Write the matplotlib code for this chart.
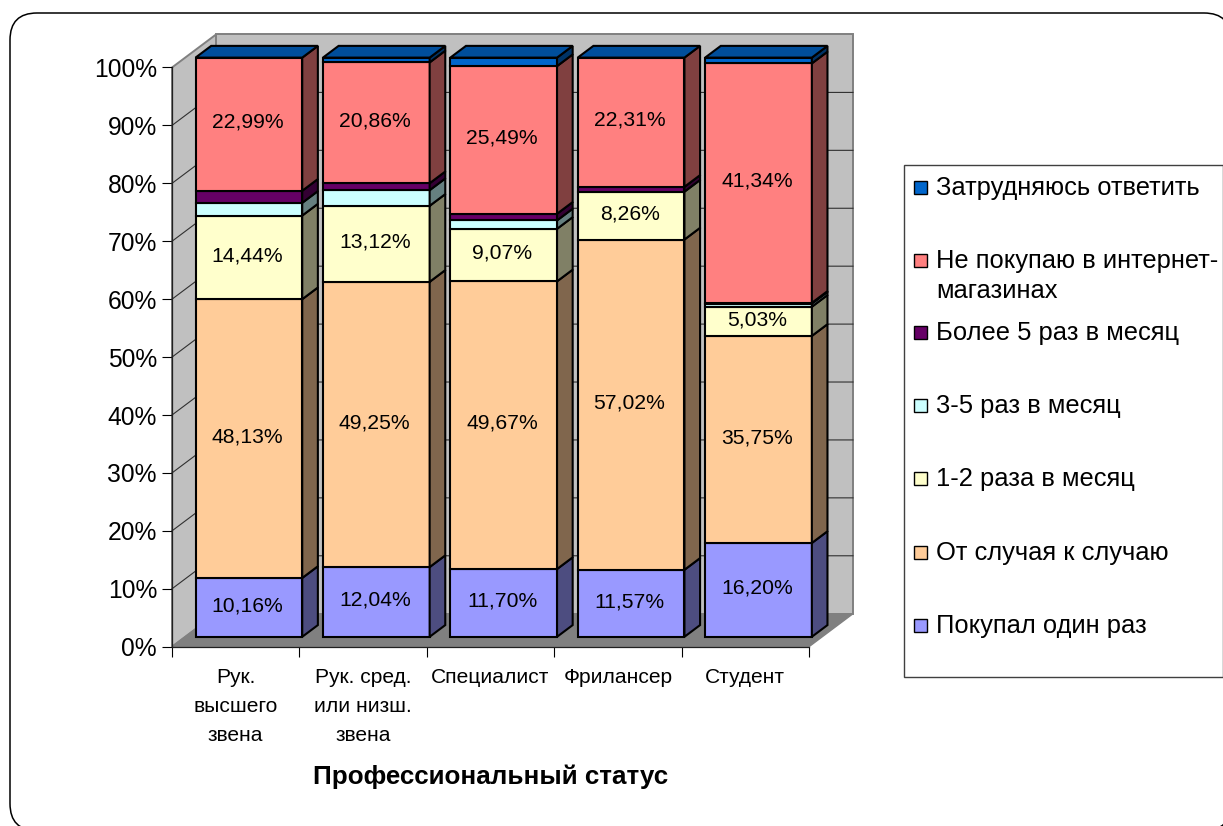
from matplotlib import pyplot as plt
from matplotlib.patches import FancyBboxPatch, Polygon, Rectangle
import numpy as np

plt.rcParams['font.family'] = ['Liberation Sans', 'DejaVu Sans']

categories = ['Рук.\nвысшего\nзвена', 'Рук. сред.\nили низш.\nзвена', 'Специалист', 'Фрилансер', 'Студент']
once = [10.16, 12.04, 11.70, 11.57, 16.20]
sometimes = [48.13, 49.25, 49.67, 57.02, 35.75]
one_two = [14.44, 13.12, 9.07, 8.26, 5.03]
three_five = [2.20, 2.70, 1.45, 0.0, 0.55]
more_five = [2.08, 1.20, 1.15, 0.84, 0.13]
no_buy = [22.99, 20.86, 25.49, 22.31, 41.34]
no_answer = [0.0, 0.83, 1.47, 0.0, 1.0]

series = [once, sometimes, one_two, three_five, more_five, no_buy, no_answer]
colors = ['#9999FF', '#FFCC99', '#FFFFCC', '#CCFFFF', '#660066', '#FF8080', '#0066CC']
legend_labels = ['Покупал один раз', 'От случая к случаю', '1-2 раза в месяц', '3-5 раз в месяц',
                 'Более 5 раз в месяц', 'Не покупаю в интернет-\nмагазинах', 'Затрудняюсь ответить']
shown_labels = [True, True, True, False, False, True, False]

W, H = 1223, 826
fig = plt.figure(figsize=(W/100, H/100), dpi=100)

# pixel overlay for rounded frame and legend
bg = fig.add_axes([0, 0, 1, 1])
bg.set_xlim(0, W)
bg.set_ylim(H, 0)
bg.axis('off')
bg.add_patch(FancyBboxPatch((10, 13), 1221, 817.6, boxstyle='round,pad=0,rounding_size=27',
                            fc='white', ec='black', lw=1.1))

bg.add_patch(Rectangle((904, 164.7), 318.5, 512, fc='white', ec='#404040', lw=1))
legend_y = [625, 552, 478, 405, 332, 260, 187]
for c, lab, yy in zip(colors, legend_labels, legend_y):
    bg.add_patch(Rectangle((914, yy-6.5), 13, 13, fc=c, ec='black', lw=1))
    bg.text(936, yy-11, lab, fontsize=18.4, va='top', ha='left', linespacing=1.3, color='black')

x0, x1, y0, y1 = 172, 809, 646.7, 67.5
ax = fig.add_axes([x0/W, (H-y0)/H, (x1-x0)/W, (y0-y1)/H])
ax.patch.set_visible(False)
ax.set_xlim(0, 5)
ax.set_ylim(0, 100)

DX = 44/127.4   # depth vector in data units
DY = 33/5.792
d_front, d_back = 0.30, 0.655
bar_w = 0.8375

# walls and floor
ax.add_patch(Polygon([(0, 0), (0, 100), (DX, 100+DY), (DX, DY)], fc='#C0C0C0', ec='#808080', lw=1.4, clip_on=False, zorder=1))
ax.add_patch(Polygon([(DX, DY), (DX, 100+DY), (5+DX, 100+DY), (5+DX, DY)], fc='#C0C0C0', ec='#808080', lw=1.4, clip_on=False, zorder=1))
ax.add_patch(Polygon([(0, 0), (5, 0), (5+DX, DY), (DX, DY)], fc='#808080', ec='#808080', lw=1, clip_on=False, zorder=1))
for v in range(10, 100, 10):
    ax.plot([0, DX, 5+DX], [v, v+DY, v+DY], color='#303030', lw=0.8, clip_on=False, zorder=2)

xs = np.arange(5) + 0.5 - bar_w/2 + d_front*DX
bottoms = np.zeros(5)
ddx = (d_back-d_front)*DX
ddy = (d_back-d_front)*DY
for vals, c, show in zip(series, colors, shown_labels):
    vals = np.array(vals)
    rgb = np.array(plt.matplotlib.colors.to_rgb(c))
    for i in range(5):
        if vals[i] == 0:
            continue
        b = bottoms[i] + d_front*DY
        xr = xs[i] + bar_w
        ax.bar(xs[i], vals[i], bottom=b, width=bar_w, align='edge', color=c, edgecolor='black', lw=1.5, zorder=4, clip_on=False)
        ax.add_patch(Polygon([(xr, b), (xr+ddx, b+ddy), (xr+ddx, b+vals[i]+ddy), (xr, b+vals[i])],
                             fc=rgb*0.5, ec='black', lw=1.5, clip_on=False, zorder=4))
        if show:
            ax.text(xs[i]+bar_w/2-0.012, b+vals[i]/2+0.3, ('%.2f%%' % vals[i]).replace('.', ','),
                    ha='center', va='center', fontsize=15.2, zorder=6)
    bottoms += vals

# top caps
top_rgb = np.array(plt.matplotlib.colors.to_rgb(colors[-1]))*0.76
for i in range(5):
    b = bottoms[i] + d_front*DY
    xr = xs[i] + bar_w
    ax.add_patch(Polygon([(xs[i], b), (xr, b), (xr+ddx, b+ddy), (xs[i]+ddx, b+ddy)],
                         fc=top_rgb, ec='black', lw=1.5, clip_on=False, zorder=5))

for s in ['top', 'right']:
    ax.spines[s].set_visible(False)
for s in ['left', 'bottom']:
    ax.spines[s].set_linewidth(0.9)
    ax.spines[s].set_color('#202020')
    ax.spines[s].set_zorder(3)

ax.set_yticks(range(0, 101, 10))
ax.set_yticklabels(['%d%%' % v for v in range(0, 101, 10)], fontsize=17.7, va='center_baseline')
ax.tick_params(axis='y', length=7.2, width=0.8, pad=3.6)
ax.set_xticks(range(6))
ax.set_xticklabels([])
ax.set_xticks(np.arange(5)+0.5, categories, minor=True, fontsize=15.1, linespacing=1.66)
ax.tick_params(axis='x', which='major', length=7.2, width=0.8)
ax.tick_params(axis='x', which='minor', length=0, pad=15.6)
ax.set_xlabel('Профессиональный статус', fontsize=18.7, fontweight='bold', labelpad=14)

fig.savefig('out.png', dpi=100)
